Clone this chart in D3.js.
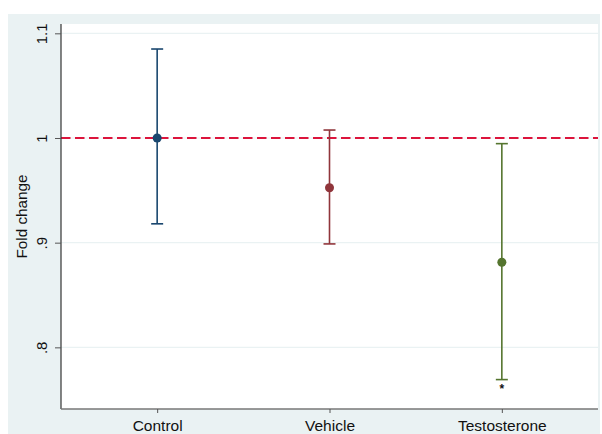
<!DOCTYPE html>
<html>
<head>
<meta charset="utf-8">
<script src="https://cdn.jsdelivr.net/npm/d3@7"></script>
<style>
    body { margin: 0; background: #fff; }
    svg { display: block; }
    text { font-family: "Liberation Sans", Arial, sans-serif; fill: #111; }
</style>
</head>
<body>
<svg id="chart" width="602" height="434"></svg>
<script>
// data
var groups = ['Control', 'Vehicle', 'Testosterone']
var means = [1.0, 0.9525, 0.8813]
var lower = [0.918, 0.8988, 0.7692]
var upper = [1.085, 1.0076, 0.9946]
var marks = ['', '', '*']
var colors = ['#1a476f', '#90353b', '#55752f']
var yTicks = [0.8, 0.9, 1.0, 1.1]
var yLabels = ['.8', '.9', '1', '1.1']
var refLine = 1.0

var svg = d3.select('#chart')
var conf = { width: 602, height: 434 }
var margin = { left: 61, right: 4, top: 24, bottom: 25 }

// outer stata-ish background
svg.append('rect')
    .attr('x', 8).attr('y', 14)
    .attr('width', 592).attr('height', 420)
    .attr('fill', '#eaf2f3')

var w = conf.width - margin.left - margin.right
var h = conf.height - margin.top - margin.bottom

var x = d3.scaleLinear().domain([0.442, 3.558]).range([0, w])
var y = d3.scaleLinear().domain([0.7411, 1.1089]).range([h, 0])

var g = svg.append('g').attr('transform', `translate(${margin.left},${margin.top})`)

g.append('rect')
    .attr('width', w).attr('height', h)
    .attr('fill', '#fff')

// grid
g.selectAll('.grid')
    .data(yTicks)
    .join('line')
    .attr('class', 'grid')
    .attr('x1', 0).attr('x2', w)
    .attr('y1', d => y(d)).attr('y2', d => y(d))
    .attr('stroke', '#eaf2f3')
    .attr('stroke-width', 1.2)

// reference line
g.append('line')
    .attr('x1', 0).attr('x2', w)
    .attr('y1', y(refLine)).attr('y2', y(refLine))
    .attr('stroke', '#dc143c')
    .attr('stroke-width', 1.8)
    .attr('stroke-dasharray', '9.5,4.5')

// axes
var yAxis = d3.axisLeft(y).tickValues(yTicks).tickFormat((d, i) => yLabels[i]).tickSize(6).tickPadding(8)
var ya = g.append('g').call(yAxis)
ya.select('.domain').attr('stroke', '#333').attr('stroke-width', 1.2).attr('d', `M0,0V${h}`)
ya.selectAll('.tick line').attr('stroke', '#555')
ya.selectAll('.tick text')
    .attr('font-size', 15)
    .attr('fill', '#111')
    .attr('text-anchor', 'middle')
    .attr('dy', 0)
    .attr('x', 0)
    .attr('transform', 'translate(-14,0) rotate(-90)')

var xAxis = d3.axisBottom(x).tickValues([1, 2, 3]).tickFormat((d, i) => groups[i]).tickSize(4).tickPadding(8)
var xa = g.append('g').attr('transform', `translate(0,${h})`).call(xAxis)
xa.select('.domain').attr('stroke', '#777').attr('stroke-width', 1.5).attr('d', `M0,0H${w}`)
xa.selectAll('.tick line').attr('stroke', '#555')
xa.selectAll('.tick text').attr('font-size', 15.5).attr('fill', '#111').attr('y', 11).attr('dy', '0.71em')

// y title
svg.append('text')
    .attr('transform', `translate(27,${margin.top + h / 2}) rotate(-90)`)
    .attr('text-anchor', 'middle')
    .attr('font-size', 15.3)
    .text('Fold change')

// error bars
var cap = 6
var bars = g.selectAll('.bar')
    .data(groups)
    .join('g')
    .attr('class', 'bar')
bars.append('line')
    .attr('x1', (d, i) => x(i + 1)).attr('x2', (d, i) => x(i + 1))
    .attr('y1', (d, i) => y(lower[i])).attr('y2', (d, i) => y(upper[i]))
    .attr('stroke', (d, i) => colors[i]).attr('stroke-width', 1.6)
bars.append('line')
    .attr('x1', (d, i) => x(i + 1) - cap).attr('x2', (d, i) => x(i + 1) + cap)
    .attr('y1', (d, i) => y(upper[i])).attr('y2', (d, i) => y(upper[i]))
    .attr('stroke', (d, i) => colors[i]).attr('stroke-width', 1.6)
bars.append('line')
    .attr('x1', (d, i) => x(i + 1) - cap).attr('x2', (d, i) => x(i + 1) + cap)
    .attr('y1', (d, i) => y(lower[i])).attr('y2', (d, i) => y(lower[i]))
    .attr('stroke', (d, i) => colors[i]).attr('stroke-width', 1.6)
bars.append('circle')
    .attr('cx', (d, i) => x(i + 1))
    .attr('cy', (d, i) => y(means[i]))
    .attr('r', 4.5)
    .attr('fill', (d, i) => colors[i])
bars.append('text')
    .attr('x', (d, i) => x(i + 1))
    .attr('y', (d, i) => y(lower[i]) + 13)
    .attr('text-anchor', 'middle')
    .attr('font-size', 12)
    .attr('font-weight', 'bold')
    .text((d, i) => marks[i])
</script>
</body>
</html>
